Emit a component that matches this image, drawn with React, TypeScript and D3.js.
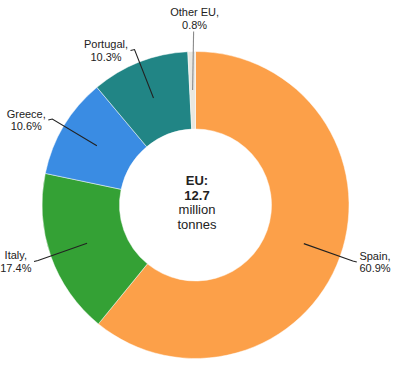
import React, { useEffect, useRef } from 'react';
import * as d3 from 'd3';

const countries = ['Spain', 'Italy', 'Greece', 'Portugal', 'Other EU'];
const shares = [60.9, 17.4, 10.6, 10.3, 0.8];
const colors = ['#fca049', '#34a135', '#3a8ce3', '#218585', '#e9e8e1'];
const centerLines = ['EU:', '12.7', 'million', 'tonnes'];

export default function App() {
  const svgRef = useRef<SVGSVGElement>(null);

  useEffect(() => {
    if (!svgRef.current) return;
    const width = 393;
    const height = 365;
    const cx = 195.5;
    const cy = 205;
    const outer = 153.5;
    const inner = 76;

    const svg = d3.select(svgRef.current);
    svg.selectAll('*').remove();
    svg.attr('width', width).attr('height', height);
    const g = svg.append('g').attr('transform', `translate(${cx},${cy})`);

    const data = countries.map((c, i) => ({ name: c, value: shares[i], color: colors[i] }));
    const pie = d3.pie<any>().value(d => d.value).sort(null);
    const arcs = pie(data);

    const arc = d3.arc<any>().innerRadius(inner).outerRadius(outer);
    const midArc = d3.arc<any>().innerRadius(115).outerRadius(115);
    const elbowArc = d3.arc<any>().innerRadius(167).outerRadius(167);

    g.selectAll('path.slice')
      .data(arcs)
      .enter()
      .append('path')
      .attr('class', 'slice')
      .attr('d', arc)
      .attr('fill', d => d.data.color)
      .attr('stroke', '#ffffff')
      .attr('stroke-opacity', 0.6)
      .attr('stroke-width', 0.8);

    // leader lines + labels
    arcs.forEach(d => {
      const [x0, y0] = midArc.centroid(d);
      const [x1, y1] = elbowArc.centroid(d);
      const mid = (d.startAngle + d.endAngle) / 2;
      const top = Math.abs(Math.sin(mid)) < 0.1 && Math.cos(mid) > 0;
      const right = Math.sin(mid) > 0;
      const lineColor = d.data.name === 'Other EU' ? '#8a8a8a' : '#222';

      let pts: [number, number][];
      if (top) {
        pts = [[x0, y0], [x0 + 1, -outer - 20]];
      } else {
        const x2 = x1 + (right ? 4 : -4);
        pts = [[x0, y0], [x1, y1], [x2, y1 + 1]];
      }
      g.append('path')
        .attr('d', d3.line()(pts) as string)
        .attr('fill', 'none')
        .attr('stroke', lineColor)
        .attr('stroke-width', 1.1);

      const label = g.append('text')
        .attr('font-family', 'Liberation Sans, Arial, sans-serif')
        .attr('font-size', 11)
        .attr('fill', '#222')
        .attr('text-anchor', 'middle');
      const lines = [`${d.data.name},`, `${d.data.value.toFixed(1)}%`];
      lines.forEach((t, i) => {
        label.append('tspan').attr('x', 0).attr('y', i * 12.5).text(t);
      });
      const bb = (label.node() as SVGTextElement).getBBox();
      const end = pts[pts.length - 1];
      let lx: number;
      let ly: number;
      if (top) {
        lx = end[0] + 1;
        ly = end[1] - 1 - (bb.y + bb.height);
      } else {
        lx = right ? end[0] + 2.5 + bb.width / 2 : end[0] - 2.5 - bb.width / 2;
        ly = end[1] - (bb.y + bb.height / 2);
      }
      label.attr('transform', `translate(${lx},${ly})`);
    });

    // centre text
    const ct = g.append('text')
      .attr('text-anchor', 'middle')
      .attr('font-family', 'Liberation Sans, Arial, sans-serif')
      .attr('font-size', 13)
      .attr('fill', '#222');
    centerLines.forEach((t, i) => {
      ct.append('tspan')
        .attr('x', 1.5)
        .attr('y', -20 + i * 14.7)
        .attr('font-weight', i < 2 ? 'bold' : 'normal')
        .text(t);
    });
  }, []);

  return (
    <svg
      ref={svgRef}
      width={393}
      height={365}
      style={{ position: 'absolute', left: 0, top: 0, background: '#fff' }}
    />
  );
}
